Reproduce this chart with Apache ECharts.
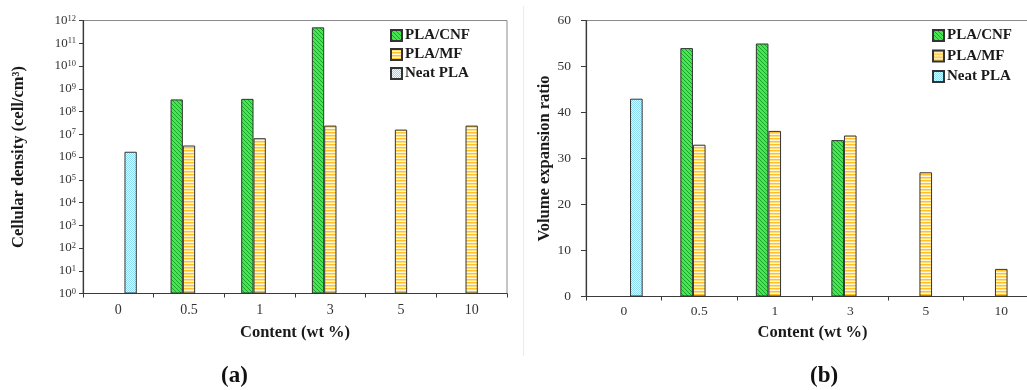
<!DOCTYPE html>
<html>
<head>
<meta charset="utf-8">
<script src="https://cdn.jsdelivr.net/npm/echarts@6/dist/echarts.min.js"></script>
<style>
  html, body { margin: 0; padding: 0; background: #fff; }
  #chart { width: 1027px; height: 390px; }
</style>
</head>
<body>
<div id="chart"></div>
<script>
// Filler content categories (wt %)
const categories = ['0', '0.5', '1', '3', '5', '10'];
const seriesNames = ['PLA/CNF', 'PLA/MF', 'Neat PLA'];

// (a) cellular density, cell/cm³ (log scale)
const densityCNF  = [null, 3.4e8, 3.6e8, 5.0e11, null, null];
const densityMF   = [null, 3.2e6, 6.7e6, 2.4e7, 1.6e7, 2.4e7];
const densityNeat = [1.7e6, null, null, null, null, null];

// (b) volume expansion ratio
const expansionCNF  = [null, 54, 55, 34, null, null];
const expansionMF   = [null, 33, 36, 35, 27, 6];
const expansionNeat = [43, null, null, null, null, null];

// Tick exponents for the log axis: 10^0 … 10^12
const densityExponents = [0, 1, 2, 3, 4, 5, 6, 7, 8, 9, 10, 11, 12];

const SERIF = '"Liberation Serif", "DejaVu Serif", serif';

// Small repeating canvas fills for the hatched bars
function pattern(w, h, bg, paint) {
  const c = document.createElement('canvas');
  c.width = w; c.height = h;
  const g = c.getContext('2d');
  g.fillStyle = bg;
  g.fillRect(0, 0, w, h);
  paint(g);
  return { image: c, repeat: 'repeat' };
}
const greenHatch = pattern(4, 4, '#4be455', g => {
  g.fillStyle = '#17a428';
  for (let i = 0; i < 4; i++) g.fillRect(i, i, 1, 1);
});
const yellowStripes = pattern(1, 3, '#fff7df', g => {
  g.fillStyle = '#ffc127'; g.fillRect(0, 0, 1, 1);
  g.fillStyle = '#ffdf7a'; g.fillRect(0, 1, 1, 1);
});
const blueDots = pattern(2, 2, '#eefafe', g => {
  g.fillStyle = '#8adbf1';
  g.fillRect(0, 0, 1, 1);
  g.fillRect(1, 1, 1, 1);
});
const fills = [greenHatch, yellowStripes, blueDots];

const barBorder = { borderColor: '#333', borderWidth: 1 };

function barSeries(idx, data, axisIdx, width) {
  return {
    name: seriesNames[idx],
    type: 'bar',
    xAxisIndex: axisIdx,
    yAxisIndex: axisIdx,
    data: data.map(v => (v == null ? '-' : v)),
    barWidth: width,
    barGap: '0%',
    itemStyle: Object.assign({ color: fills[idx] }, barBorder),
    emphasis: { disabled: true },
    animation: false
  };
}

const axisLineDark = { show: true, lineStyle: { color: '#3a3a3a', width: 1.2 } };
const tickStyle = { lineStyle: { color: '#3a3a3a', width: 1 } };
const titleFont = { fontFamily: SERIF, fontWeight: 'bold', fontSize: 16.5, color: '#1a1a1a' };
const legendText = { fontFamily: SERIF, fontWeight: 'bold', fontSize: 15, color: '#1a1a1a', padding: [0, 0, 0, -2] };

const chart = echarts.init(document.getElementById('chart'), null, { renderer: 'canvas' });

chart.setOption({
  backgroundColor: '#fff',
  animation: false,
  textStyle: { fontFamily: SERIF },
  grid: [
    { left: 83, top: 20.5, right: 520, bottom: 96.5, show: true, borderColor: '#8a8a8a', borderWidth: 1, backgroundColor: '#fff', outerBoundsMode: 'none' },
    // panel (b) runs past the right edge of the page, as in the cropped figure
    { left: 586, top: 20.5, width: 453, bottom: 93.5, show: true, borderColor: '#8a8a8a', borderWidth: 1, backgroundColor: '#fff', outerBoundsMode: 'none' }
  ],
  legend: [
    {
      data: seriesNames, orient: 'vertical', left: 390, top: 28, padding: 0,
      itemWidth: 11, itemHeight: 11, itemGap: 4, selectedMode: false,
      icon: 'rect', textStyle: legendText
    },
    {
      data: seriesNames, orient: 'vertical', left: 932, top: 28, padding: 0,
      itemWidth: 11, itemHeight: 11, itemGap: 5.5, selectedMode: false,
      icon: 'rect', textStyle: legendText
    }
  ],
  xAxis: [
    {
      type: 'category', gridIndex: 0, data: categories,
      axisLine: axisLineDark,
      axisTick: Object.assign({ show: true, length: 4, inside: false }, tickStyle),
      axisLabel: { fontFamily: SERIF, fontSize: 14, color: '#333', margin: 10 },
      name: 'Content (wt %)', nameLocation: 'middle', nameGap: 31,
      nameTextStyle: Object.assign({ verticalAlign: 'top' }, titleFont)
    },
    {
      type: 'category', gridIndex: 1, data: categories,
      axisLine: axisLineDark,
      axisTick: Object.assign({ show: true, length: 4, inside: false }, tickStyle),
      axisLabel: { fontFamily: SERIF, fontSize: 13.5, color: '#333', margin: 8 },
      name: 'Content (wt %)', nameLocation: 'middle', nameGap: 28,
      nameTextStyle: Object.assign({ verticalAlign: 'top' }, titleFont)
    }
  ],
  yAxis: [
    {
      type: 'log', gridIndex: 0, logBase: 10,
      min: Math.pow(10, densityExponents[0]),
      max: Math.pow(10, densityExponents[densityExponents.length - 1]),
      interval: 1,
      splitLine: { show: false },
      axisLine: axisLineDark,
      axisTick: Object.assign({ show: true, length: 4, inside: false }, tickStyle),
      axisLabel: {
        fontFamily: SERIF, fontSize: 13, color: '#333', margin: 7,
        formatter: v => '10{s|' + Math.round(Math.log10(v)) + '}',
        rich: { s: { fontFamily: SERIF, fontSize: 8.5, color: '#333', lineHeight: 8, verticalAlign: 'top' } }
      },
      name: 'Cellular density (cell/cm³)', nameLocation: 'middle', nameGap: 56,
      nameTextStyle: titleFont
    },
    {
      type: 'value', gridIndex: 1, min: 0, max: 60, interval: 10,
      splitLine: { show: false },
      axisLine: axisLineDark,
      axisTick: Object.assign({ show: true, length: 5, inside: false }, tickStyle),
      axisLabel: { fontFamily: SERIF, fontSize: 13.5, color: '#333', margin: 15 },
      name: 'Volume expansion ratio', nameLocation: 'middle', nameGap: 27,
      nameTextStyle: titleFont
    }
  ],
  series: [
    barSeries(0, densityCNF, 0, 12.3),
    barSeries(1, densityMF, 0, 12.3),
    barSeries(2, densityNeat, 0, 12.3),
    barSeries(0, expansionCNF, 1, 12.6),
    barSeries(1, expansionMF, 1, 12.6),
    barSeries(2, expansionNeat, 1, 12.6)
  ],
  graphic: [
    {
      type: 'line', silent: true, z: -1,
      shape: { x1: 523.5, y1: 6, x2: 523.5, y2: 356 },
      style: { stroke: '#ececec', lineWidth: 1 }
    },
    {
      type: 'text', left: 221, top: 365, silent: true,
      style: { text: '(a)', font: 'bold 23px ' + SERIF, fill: '#111' }
    },
    {
      type: 'text', left: 810, top: 365, silent: true,
      style: { text: '(b)', font: 'bold 23px ' + SERIF, fill: '#111' }
    }
  ]
});
</script>
</body>
</html>
